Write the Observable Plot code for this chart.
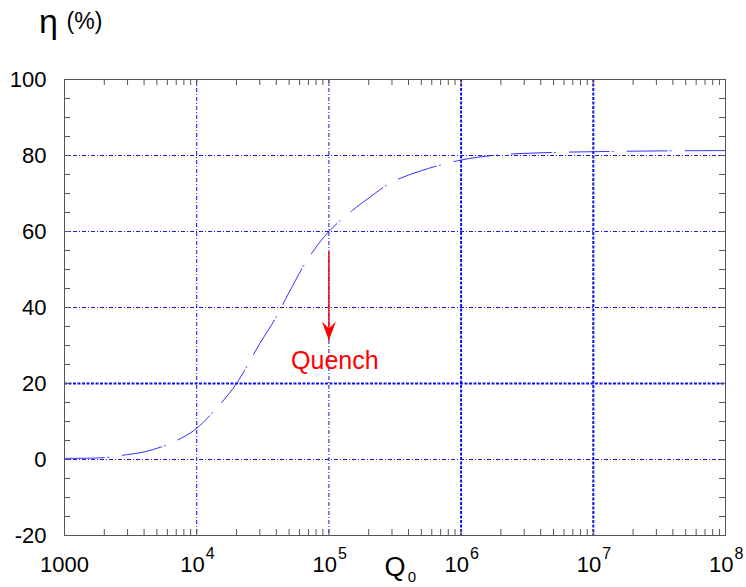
<!DOCTYPE html>
<html>
<head>
<meta charset="utf-8">
<script src="https://cdn.jsdelivr.net/npm/d3@7"></script>
<script src="https://cdn.jsdelivr.net/npm/@observablehq/plot@0.6"></script>
<style>
  html, body { margin: 0; padding: 0; background: white; }
  svg { display: block; }
</style>
</head>
<body>
<div id="chart"></div>
<script>
// Curve data: Q0 vs efficiency eta (%)
const q0 = [1000, 2000, 3000, 4000, 6000, 8000, 1e4, 1.5e4, 2e4, 3e4, 4e4, 5e4, 7e4, 1e5, 1.5e5, 2e5, 3e5, 5e5, 1e6, 2e6, 5e6, 1e7, 3e7, 1e8];
const eta = [0.3, 0.5, 1.3, 2.0, 3.9, 6.0, 8.2, 14.5, 20, 30.5, 37.5, 44, 53, 60, 65.5, 68.8, 73, 76, 78.8, 80.2, 80.8, 81.0, 81.2, 81.3];

// Axis ticks and labels
const xMajor = [1e3, 1e4, 1e5, 1e6, 1e7, 1e8];
const xBase = ["1000", "10", "10", "10", "10", "10"];
const xExp = ["", "4", "5", "6", "7", "8"];
const yMajor = [-20, 0, 20, 40, 60, 80, 100];
const yMinor = d3.range(-20, 101, 5);
const xMinor = d3.range(3, 8).flatMap(e => d3.range(1, 10).map(m => m * 10 ** e)).concat([1e8]);

// Grid lines
const gridXThin = [1e4, 1e5];
const gridXThick = [1e6, 1e7];
const gridYThin = [0, 40, 60, 80];
const gridYThick = [20];

// Annotation
const quenchX = [1e5];
const quenchFrom = [54.5];
const quenchTo = [31.3];
const quenchLabel = ["Quench"];
const quenchLabelY = [26];

const data = q0.map((q, i) => ({q, eta: eta[i]}));
const xLabels = xMajor.map((v, i) => ({v, base: xBase[i], exp: xExp[i]}));

const arrowHead = {
  draw(ctx) {
    ctx.moveTo(0, 0);
    ctx.lineTo(-7, -19);
    ctx.lineTo(0, -12);
    ctx.lineTo(7, -19);
    ctx.closePath();
  }
};

const innerW = 746 - 64 - 21;
const innerH = 587 - 79 - 52;
const tickLen = 6;
const font = "'Liberation Sans', Arial, sans-serif";

const chart = Plot.plot({
  width: 746,
  height: 587,
  marginLeft: 64,
  marginRight: 21,
  marginTop: 79,
  marginBottom: 52,
  x: {type: "log", domain: [1e3, 1e8], axis: null},
  y: {domain: [-20, 100], axis: null},
  style: {fontFamily: font, background: "white", color: "black"},
  marks: [
    // grid
    Plot.ruleX(gridXThin, {stroke: "#1010ee", strokeWidth: 1, strokeDasharray: "4,2,1,2"}),
    Plot.ruleX(gridXThick, {stroke: "#1010ee", strokeWidth: 2, strokeDasharray: "3,1.5"}),
    Plot.ruleY(gridYThin, {stroke: "#1a1acc", strokeWidth: 1, strokeDasharray: "4,2,1,2"}),
    Plot.ruleY(gridYThick, {stroke: "#1010ee", strokeWidth: 2, strokeDasharray: "3,1.5"}),
    // frame and inward ticks
    Plot.frame({stroke: "#555"}),
    Plot.tickX(xMinor, {x: d => d, insetTop: innerH - tickLen, stroke: "#555"}),
    Plot.tickX(xMinor, {x: d => d, insetBottom: innerH - tickLen, stroke: "#555"}),
    Plot.tickY(yMinor, {y: d => d, insetRight: innerW - tickLen, stroke: "#555"}),
    Plot.tickY(yMinor, {y: d => d, insetLeft: innerW - tickLen, stroke: "#555"}),
    // curve
    Plot.line(data, {x: "q", y: "eta", stroke: "#3030ff", strokeWidth: 1, curve: "catmull-rom", strokeDasharray: "40,3,1,14"}),
    // quench arrow
    Plot.ruleX(quenchX, {x: d => d, y1: quenchFrom, y2: quenchTo, stroke: "red", strokeWidth: 1.5}),
    Plot.dot(quenchX, {x: d => d, y: quenchTo, symbol: arrowHead, fill: "red", stroke: "none", r: 1}),
    Plot.text(quenchLabel, {x: quenchX, y: quenchLabelY, text: d => d, fill: "red", fontSize: 25, dx: 6}),
    // y tick labels
    Plot.text(yMajor, {x: 1e3, y: d => d, text: d => String(d), textAnchor: "end", dx: -18, fontSize: 22, fill: "black"}),
    // x tick labels
    Plot.text(xLabels.filter(d => d.exp === ""), {x: "v", y: -20, text: "base", dy: 29, fontSize: 22, fill: "black"}),
    Plot.text(xLabels.filter(d => d.exp !== ""), {x: "v", y: -20, text: "base", textAnchor: "end", dx: 8, dy: 29, fontSize: 22, fill: "black"}),
    Plot.text(xLabels.filter(d => d.exp !== ""), {x: "v", y: -20, text: "exp", textAnchor: "start", dx: 9, dy: 18, fontSize: 16, fill: "black"}),
    // axis titles
    Plot.text(["Q"], {frameAnchor: "bottom", textAnchor: "middle", lineAnchor: "middle", dy: 32, fontSize: 27, fill: "black"}),
    Plot.text(["0"], {frameAnchor: "bottom", textAnchor: "middle", lineAnchor: "middle", dx: 17, dy: 42, fontSize: 15, fill: "black"}),
    Plot.text(["η"], {frameAnchor: "top-left", textAnchor: "middle", lineAnchor: "middle", dx: -16, dy: -57, fontSize: 34, fill: "black"}),
    Plot.text(["(%)"], {frameAnchor: "top-left", textAnchor: "middle", lineAnchor: "middle", dx: 20, dy: -58, fontSize: 23, fill: "black"})
  ]
});

document.getElementById("chart").appendChild(chart);
</script>
</body>
</html>
